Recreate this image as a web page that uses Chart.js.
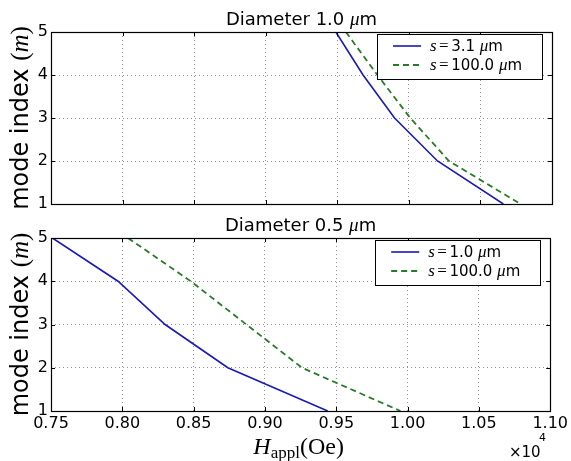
<!DOCTYPE html>
<html>
<head>
<meta charset="utf-8">
<script src="https://cdn.jsdelivr.net/npm/chart.js@4.4.0/dist/chart.umd.min.js"></script>
<style>
  body { margin: 0; background: #fff; }
  #wrap { position: relative; width: 571px; height: 461px; background: #fff; }
  canvas { position: absolute; left: 0; top: 0; }
</style>
</head>
<body>
<div id="wrap">
  <canvas id="graficoTopo" width="571" height="461"></canvas>
  <canvas id="graficoBase" width="571" height="461"></canvas>
</div>
<script>
// Modos m = 5..1 e campo aplicado (x 10^4 Oe)
const modos = [5, 4, 3, 2, 1];

// Diametro 1.0 um
const campoD10_s31 = [0.949, 0.968, 0.990, 1.020, 1.066];
const campoD10_s100 = [0.956, 0.978, 1.001, 1.028, 1.078];

// Diametro 0.5 um
const campoD05_s10 = [0.751, 0.797, 0.830, 0.874, 0.944];
const campoD05_s100 = [0.804, 0.848, 0.887, 0.926, 0.995];

// Eixos
const ticksX = [0.75, 0.80, 0.85, 0.90, 0.95, 1.00, 1.05, 1.10];
const ticksY = [1, 2, 3, 4, 5];

const SANS = 'DejaVu Sans';
const SERIF = 'Liberation Serif';
const AZUL = '#1a1ab8';
const VERDE = '#287a28';

// escreve trechos com fontes diferentes numa mesma linha
function escreverTrechos(ctx, trechos, x, y, alinhamento) {
  let total = 0;
  trechos.forEach(t => {
    ctx.font = t.f;
    t.w = ctx.measureText(t.t).width + (t.gap || 0) * 2;
    total += t.w;
  });
  let cx = x;
  if (alinhamento === 'center') cx = x - total / 2;
  if (alinhamento === 'right') cx = x - total;
  trechos.forEach(t => {
    ctx.font = t.f;
    ctx.fillText(t.t, cx + (t.gap || 0), y + (t.dy || 0));
    cx += t.w;
  });
}

function pontos(xs) {
  return xs.map((v, i) => ({ x: v, y: modos[i] }));
}

// moldura estilo matplotlib: caixa, ticks para dentro, titulo, legenda e rotulos
function criarMoldura(cfg) {
  return {
    id: 'moldura',
    afterDraw(chart) {
      const ctx = chart.ctx;
      const a = chart.chartArea;
      const sx = chart.scales.x;
      const sy = chart.scales.y;
      ctx.save();

      // ticks para dentro nos quatro lados
      ctx.strokeStyle = '#000';
      ctx.lineWidth = 1;
      ctx.beginPath();
      ticksX.forEach(v => {
        const px = Math.round(sx.getPixelForValue(v)) + 0.5;
        ctx.moveTo(px, a.bottom); ctx.lineTo(px, a.bottom - 4);
        ctx.moveTo(px, a.top); ctx.lineTo(px, a.top + 4);
      });
      ticksY.forEach(v => {
        const py = Math.round(sy.getPixelForValue(v)) + 0.5;
        ctx.moveTo(a.left, py); ctx.lineTo(a.left + 4, py);
        ctx.moveTo(a.right, py); ctx.lineTo(a.right - 4, py);
      });
      ctx.stroke();

      // caixa dos eixos
      ctx.lineWidth = 1.2;
      ctx.strokeRect(Math.round(a.left) + 0.5, Math.round(a.top) + 0.5,
        Math.round(a.right - a.left), Math.round(a.bottom - a.top));

      ctx.fillStyle = '#000';
      ctx.textBaseline = 'alphabetic';

      // titulo
      const cxArea = (a.left + a.right) / 2;
      escreverTrechos(ctx, [
        { t: 'Diameter ' + cfg.diametro + ' ', f: '18px ' + SANS },
        { t: 'μ', f: 'italic 19px ' + SERIF },
        { t: 'm', f: '18px ' + SANS }
      ], cxArea, a.top - 7, 'center');

      // rotulo do eixo y
      ctx.save();
      ctx.translate(21, (a.top + a.bottom) / 2);
      ctx.rotate(-Math.PI / 2);
      escreverTrechos(ctx, [
        { t: 'mode index ', f: '24px ' + SANS },
        { t: '(', f: '25px ' + SERIF },
        { t: 'm', f: 'italic 25px ' + SERIF },
        { t: ')', f: '25px ' + SERIF }
      ], 0, 7, 'center');
      ctx.restore();

      // legenda
      const lx = a.right - 175, ly = a.top + 2, lw = 165, lh = 45;
      ctx.fillStyle = '#fff';
      ctx.fillRect(lx, ly, lw, lh);
      ctx.strokeStyle = '#000';
      ctx.lineWidth = 1;
      ctx.strokeRect(Math.round(lx) + 0.5, Math.round(ly) + 0.5, lw, lh);
      chart.data.datasets.forEach((ds, i) => {
        const yy = ly + 12 + i * 19;
        ctx.strokeStyle = ds.borderColor;
        ctx.lineWidth = ds.borderWidth;
        ctx.setLineDash(ds.borderDash || []);
        ctx.beginPath();
        ctx.moveTo(lx + 16, yy); ctx.lineTo(lx + 44, yy);
        ctx.stroke();
        ctx.setLineDash([]);
        ctx.fillStyle = '#000';
        escreverTrechos(ctx, [
          { t: 's', f: 'italic 17px ' + SERIF },
          { t: '=', f: '17px ' + SERIF, gap: 2.5 },
          { t: cfg.legendas[i] + ' ', f: '15px ' + SANS },
          { t: 'μ', f: 'italic 17px ' + SERIF },
          { t: 'm', f: '15px ' + SANS }
        ], lx + 53, yy + 5, 'left');
      });

      // rotulo do eixo x e fator de escala
      if (cfg.rotuloX) {
        ctx.fillStyle = '#000';
        escreverTrechos(ctx, [
          { t: 'H', f: 'italic 24px ' + SERIF },
          { t: 'appl', f: '17px ' + SERIF, dy: 4 },
          { t: '(Oe)', f: '24px ' + SERIF }
        ], cxArea - 2, 454, 'center');
        escreverTrechos(ctx, [
          { t: '×10', f: '15px ' + SANS }
        ], 509, 457, 'left');
        escreverTrechos(ctx, [
          { t: '4', f: '11px ' + SANS }
        ], 539, 441, 'left');
      }
      ctx.restore();
    }
  };
}

function criarGrafico(id, serieA, serieB, cfg) {
  const ctx = document.getElementById(id).getContext('2d');
  return new Chart(ctx, {
    type: 'scatter',
    data: {
      datasets: [{
        label: 's=' + cfg.legendas[0] + ' μm',
        data: pontos(serieA),
        showLine: true,
        borderColor: AZUL,
        borderWidth: 1.6,
        pointRadius: 0
      }, {
        label: 's=' + cfg.legendas[1] + ' μm',
        data: pontos(serieB),
        showLine: true,
        borderColor: VERDE,
        borderWidth: 1.8,
        borderDash: [6, 4],
        pointRadius: 0
      }]
    },
    options: {
      responsive: false,
      maintainAspectRatio: false,
      animation: false,
      events: [],
      layout: { padding: cfg.padding },
      plugins: { legend: { display: false }, title: { display: false }, tooltip: { enabled: false } },
      scales: {
        x: {
          type: 'linear',
          min: 0.75,
          max: 1.10,
          afterBuildTicks: s => { s.ticks = ticksX.map(v => ({ value: v })); },
          afterFit: s => { s.height = cfg.alturaX; },
          grid: { color: 'rgba(0,0,0,0.55)', lineWidth: 0.8, drawTicks: false },
          border: { display: false, dash: [1, 3] },
          ticks: {
            display: cfg.rotuloX,
            padding: 3,
            color: '#000',
            font: { family: SANS, size: 16 },
            callback: v => v.toFixed(2)
          }
        },
        y: {
          min: 1,
          max: 5,
          afterBuildTicks: s => { s.ticks = ticksY.map(v => ({ value: v })); },
          afterFit: s => { s.width = 51; },
          grid: { color: 'rgba(0,0,0,0.55)', lineWidth: 0.8, drawTicks: false },
          border: { display: false, dash: [1, 3] },
          ticks: {
            padding: 3,
            color: '#000',
            font: { family: SANS, size: 16 },
            callback: v => String(v)
          }
        }
      }
    },
    plugins: [criarMoldura(cfg)]
  });
}

criarGrafico('graficoTopo', campoD10_s31, campoD10_s100, {
  diametro: '1.0',
  legendas: ['3.1', '100.0'],
  rotuloX: false,
  alturaX: 0,
  padding: { top: 32, left: 0, right: 19, bottom: 257 }
});

criarGrafico('graficoBase', campoD05_s10, campoD05_s100, {
  diametro: '0.5',
  legendas: ['1.0', '100.0'],
  rotuloX: true,
  alturaX: 50,
  padding: { top: 238, left: 0, right: 19, bottom: 0 }
});
</script>
</body>
</html>
